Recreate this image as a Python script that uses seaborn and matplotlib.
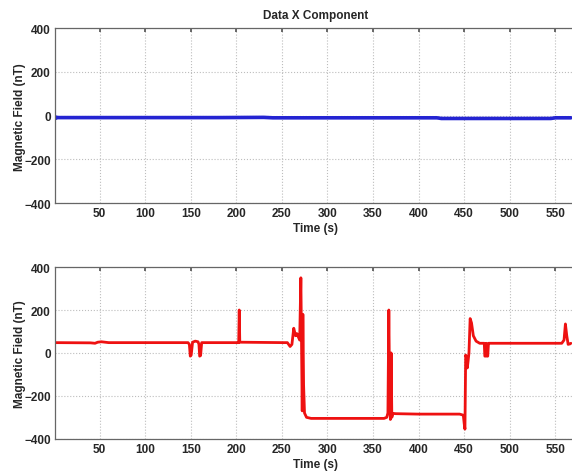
import numpy as np
import pandas as pd
import matplotlib
matplotlib.use("Agg")
import matplotlib.pyplot as plt
import seaborn as sns

# ---- data ----
blue_t = [1, 2, 3, 5, 60, 120, 180, 230, 240, 300, 360, 420, 425, 480, 545, 550, 567]
blue_v = [-5, -12, -8, -9, -9, -9, -9, -8, -10, -10, -10, -10, -13, -13, -13, -10, -10]

red_t = [1, 40, 45, 48, 52, 60, 147, 148.5, 149.5, 150.5, 152, 155, 158, 159, 159.8, 160.8, 162,
         202, 202.6, 203.2, 203.8, 252, 256, 259, 261, 263, 265, 266.5, 268, 269.5, 270.8, 271.5,
         272.3, 273, 273.8, 274.8, 277, 282, 300, 340, 362, 365, 366.3, 367.3, 368.2, 369, 369.8,
         370.6, 371.4, 372.5, 375, 400, 445, 449, 450, 450.8, 451.6, 452.4, 453.4, 454.2, 455.2,
         456.5, 458, 460, 463, 467, 472, 472.6, 473.4, 474.2, 475, 475.8, 476.6, 477.4, 480,
         520, 557, 559.5, 561, 562.5, 564, 566, 567]
red_v = [48, 47, 45, 50, 52, 48, 48, 40, -15, -10, 50, 55, 52, 40, -15, -12, 48,
         48, 48, 200, 50, 48, 48, 30, 40, 115, 80, 90, 75, 60, 350, 60,
         -270, 180, -150, -280, -300, -305, -305, -305, -305, -300, -280, 200, -200, -310, 0,
         -300, -285, -282, -283, -285, -285, -290, -330, -355, -10, -20, -70, -40, 0,
         160, 140, 80, 55, 45, 45, -15, -15, 45, -15, -15, 45, 45, 45,
         45, 45, 60, 135, 80, 40, 42, 45]

x_ticks = [50, 100, 150, 200, 250, 300, 350, 400, 450, 500, 550]
y_ticks = [-400, -200, 0, 200, 400]

sns.set_theme(style="white")
plt.rcParams['font.family'] = ['Liberation Sans', 'DejaVu Sans']
plt.rcParams['font.weight'] = 'bold'

fig = plt.figure(figsize=(5.72, 4.77), dpi=100)
ax1 = fig.add_axes([0.096, 0.572, 0.91, 0.367])
ax2 = fig.add_axes([0.096, 0.078, 0.91, 0.360])

df_b = pd.DataFrame({"t": blue_t, "v": blue_v})
df_r = pd.DataFrame({"t": red_t, "v": red_v})

sns.lineplot(data=df_b, x="t", y="v", ax=ax1, color="#2424d2", lw=2.6, sort=False)
sns.lineplot(data=df_r, x="t", y="v", ax=ax2, color="#ee1111", lw=2.0, sort=False)

for ax in (ax1, ax2):
    ax.set_xlim(1, 572)
    ax.set_ylim(-400, 400)
    ax.set_xticks(x_ticks)
    ax.set_yticks(y_ticks)
    ax.grid(True, linestyle=':', color='#bdbdbd', lw=0.8)
    ax.tick_params(direction='in', top=True, right=False, length=3, labelsize=8.5,
                   pad=3, color='#555555')
    for lab in ax.get_xticklabels() + ax.get_yticklabels():
        lab.set_fontweight('bold')
    for s in ax.spines.values():
        s.set_color('#666666')
        s.set_linewidth(0.9)
    ax.spines['right'].set_visible(False)
    ax.set_xlabel("Time (s)", fontsize=8.5, fontweight='bold', labelpad=2)
    ax.set_ylabel("Magnetic Field (nT)", fontsize=8.5, fontweight='bold', labelpad=-1)

ax1.set_title("Data X Component", fontsize=8.5, fontweight='bold', pad=7)

fig.savefig("out.png", dpi=100)
